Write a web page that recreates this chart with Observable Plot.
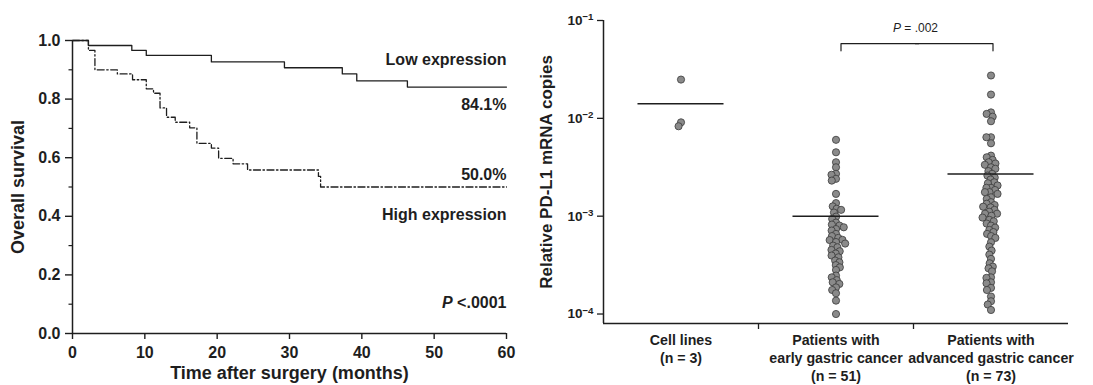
<!DOCTYPE html>
<html><head><meta charset="utf-8">
<script src="https://cdn.jsdelivr.net/npm/d3@7"></script>
<script src="https://cdn.jsdelivr.net/npm/@observablehq/plot@0.6"></script>
<style>
body{margin:0;background:#fff;}
#wrap{display:flex;width:1093px;height:385px;overflow:hidden;}
svg{display:block;overflow:visible}
</style></head><body><div id="wrap"></div>
<script>
// ---- Left panel: Kaplan-Meier overall survival ----
const lowTime  = [0, 2.2, 8.2, 10.2, 19.2, 29.3, 37.3, 39.3, 46.3, 60];
const lowSurv  = [1, 0.983, 0.966, 0.949, 0.927, 0.907, 0.886, 0.862, 0.841, 0.841];
const highTime = [0, 2.2, 3.1, 6.2, 8.3, 10.2, 11.2, 12.1, 13.0, 14.2, 16.2, 17.2, 19.2, 20.2, 22.2, 24.2, 34.0, 34.3, 60];
const highSurv = [1, 0.966, 0.900, 0.886, 0.866, 0.835, 0.820, 0.770, 0.738, 0.721, 0.702, 0.649, 0.633, 0.598, 0.579, 0.558, 0.536, 0.500, 0.500];
const survTicks = [0, 0.2, 0.4, 0.6, 0.8, 1.0];
const survMinorTicks = [0.1, 0.3, 0.5, 0.7, 0.9];
const timeTicks = [0, 10, 20, 30, 40, 50, 60];
const logRankP = "P <.0001";

// ---- Right panel: PD-L1 mRNA copies ----
const categories = ["Cell lines", "Patients with early gastric cancer", "Patients with advanced gastric cancer"];
const categoryLabels = ["Cell lines\n(n = 3)", "Patients with\nearly gastric cancer\n(n = 51)", "Patients with\nadvanced gastric cancer\n(n = 73)"];
const cellLines = [0.0249, 0.0091, 0.0083];
const early = [0.00603, 0.0045, 0.00356, 0.00316, 0.00271, 0.00265, 0.00241, 0.00231, 0.00169, 0.00136,
  0.00126, 0.00119, 0.00116, 0.00109, 0.000991, 0.000938, 0.00086, 0.00082, 0.000801, 0.00077,
  0.000738, 0.000713, 0.000659, 0.000626, 0.0006, 0.000573, 0.00057, 0.000544, 0.000525, 0.0005,
  0.000481, 0.000452, 0.000438, 0.000415, 0.000396, 0.00038, 0.000352, 0.000338, 0.000316, 0.0003,
  0.000282, 0.000247, 0.000237, 0.000222, 0.000211, 0.000203, 0.000187, 0.000176, 0.000163, 0.000137, 0.0001];
const advanced = [0.0274, 0.0175, 0.0115, 0.0111, 0.0104, 0.00934, 0.00641, 0.00641, 0.00556, 0.00416,
  0.004, 0.00376, 0.00356, 0.00345, 0.00335, 0.00316, 0.00305, 0.00289, 0.00271, 0.0026,
  0.00248, 0.00237, 0.00222, 0.00217, 0.00206, 0.00195, 0.00195, 0.00185, 0.00176, 0.00176,
  0.00169, 0.00156, 0.0015, 0.00139, 0.00134, 0.0013, 0.00125, 0.00123, 0.00116, 0.00111,
  0.00106, 0.00106, 0.00101, 0.000968, 0.000917, 0.000887, 0.00084, 0.000801, 0.000764, 0.000724,
  0.000688, 0.000659, 0.000626, 0.0006, 0.000541, 0.000489, 0.000445, 0.000405, 0.000366, 0.00033,
  0.000305, 0.000293, 0.000273, 0.000237, 0.000234, 0.000211, 0.000206, 0.000185, 0.000176, 0.000151,
  0.000135, 0.000125, 0.00011];
const groupMeans = [0.0141, 0.00100, 0.0027];
const logTicks = [1e-4, 1e-3, 1e-2, 1e-1];
const yDomain = [8e-5, 0.1];
const comparison = {groups: [categories[1], categories[2]], label: "P = .002", level: 0.058, foot: 0.049, labelLevel: 0.083};

// ---- styles ----
const FONT = "'Liberation Sans', Arial, Helvetica, sans-serif";
const INK = "#1e1e1e";

const lowData = lowTime.map((t, i) => ({t, s: lowSurv[i]}));
const highData = highTime.map((t, i) => ({t, s: highSurv[i]}));
const lowEnd = lowData[lowData.length - 1];
const highEnd = highData[highData.length - 1];
const pct = d => (d.s * 100).toFixed(1) + "%";

const left = Plot.plot({
  width: 530, height: 385, marginTop: 40, marginBottom: 52, marginLeft: 72, marginRight: 24,
  style: {fontFamily: FONT, color: INK, background: "white", overflow: "visible"},
  x: {domain: [0, 60]},
  y: {domain: [0, 1]},
  marks: [
    Plot.axisY({ticks: survTicks, tickFormat: ".1f", tickSize: 7, tickPadding: 5, fontSize: 16, fontWeight: "bold", label: null, strokeWidth: 1.4}),
    Plot.axisY({ticks: survMinorTicks, tickSize: 3.5, tickFormat: () => "", label: null, strokeWidth: 1.2}),
    Plot.axisX({ticks: timeTicks, tickSize: 6, tickPadding: 7, fontSize: 16, fontWeight: "bold", label: null, strokeWidth: 1.4}),
    Plot.ruleX([0], {strokeWidth: 1.5}),
    Plot.ruleY([0], {strokeWidth: 1.5}),
    Plot.line(lowData, {x: "t", y: "s", curve: "step-after", stroke: INK, strokeWidth: 1.3}),
    Plot.line(highData, {x: "t", y: "s", curve: "step-after", stroke: INK, strokeWidth: 1.3, strokeDasharray: "7,2.5,1.5,2.5"}),
    Plot.text([lowEnd], {x: "t", y: "s", text: () => "Low expression", textAnchor: "end", dy: -27, fontSize: 16, fontWeight: "bold"}),
    Plot.text([lowEnd], {x: "t", y: "s", text: pct, textAnchor: "end", dy: 17.5, fontSize: 16, fontWeight: "bold"}),
    Plot.text([highEnd], {x: "t", y: "s", text: pct, textAnchor: "end", dy: -12.5, fontSize: 16, fontWeight: "bold"}),
    Plot.text([highEnd], {x: "t", y: "s", text: () => "High expression", textAnchor: "end", dy: 27.5, fontSize: 16, fontWeight: "bold"}),
    Plot.text([logRankP], {text: d => d, frameAnchor: "bottom-right", textAnchor: "end", dy: -26, fontSize: 16, fontWeight: "bold"}),
    Plot.text(["Time after surgery (months)"], {text: d => d, frameAnchor: "bottom", dy: 45, fontSize: 18, fontWeight: "bold"}),
    Plot.text(["Overall survival"], {text: d => d, frameAnchor: "left", textAnchor: "middle", rotate: -90, dx: -54, fontSize: 18, fontWeight: "bold"})
  ]
});

const points = [
  ...cellLines.map(v => ({cat: categories[0], v})),
  ...early.map(v => ({cat: categories[1], v})),
  ...advanced.map(v => ({cat: categories[2], v}))
];
const means = categories.map((cat, i) => ({cat, m: groupMeans[i]}));
const RH = 385, RMT = 20, RMB = 62;
const bracketLeft = [{x: 0, y: comparison.foot}, {x: 0, y: comparison.level}, {x: 1, y: comparison.level}];
const bracketRight = [{x: -1, y: comparison.level}, {x: 0, y: comparison.level}, {x: 0, y: comparison.foot}];

const right = Plot.plot({
  width: 563, height: RH, marginTop: RMT, marginBottom: RMB, marginLeft: 73, marginRight: 25,
  style: {fontFamily: FONT, color: INK, background: "white", overflow: "visible"},
  fx: {domain: categories, padding: 0, axis: null},
  x: {domain: [-1, 1], axis: null},
  y: {type: "log", domain: yDomain},
  marks: [
    Plot.axisY({ticks: logTicks, tickFormat: d => "10^" + Math.round(Math.log10(d)), tickSize: 6, tickPadding: 4, fontSize: 13.5, fontWeight: "bold", label: null, strokeWidth: 1.3}),
    Plot.ruleX([categories[0]], {fx: d => d, x: -1, strokeWidth: 1.5}),
    Plot.ruleY([yDomain[0]], {strokeWidth: 1.5}),
    Plot.ruleX([categories[1], categories[2]], {fx: d => d, x: -1, insetTop: RH - RMT - RMB, insetBottom: -6, strokeWidth: 1.3}),
    Plot.dot(points, Plot.dodgeX({anchor: "middle", r: 3.6, padding: -2.6}, {fx: "cat", y: "v", r: 3.6, fill: "#8a8a8a", stroke: "#3a3a3a", strokeWidth: 0.8})),
    Plot.ruleY(means, {fx: "cat", y: "m", x1: -0.555, x2: 0.555, strokeWidth: 1.5}),
    Plot.line(bracketLeft, {fx: () => comparison.groups[0], x: "x", y: "y", dx: 5, strokeWidth: 1.2}),
    Plot.line(bracketRight, {fx: () => comparison.groups[1], x: "x", y: "y", dx: 2, strokeWidth: 1.2}),
    Plot.text([comparison.label], {fx: () => comparison.groups[1], x: -1, y: comparison.labelLevel, text: d => d, dx: 2, fontSize: 12, textAnchor: "middle"}),
    Plot.text(categories, {fx: d => d, text: (d, i) => categoryLabels[i], frameAnchor: "bottom", lineAnchor: "top", dy: 9, fontSize: 14.2, fontWeight: "bold", lineHeight: 1.27}),
    Plot.text(["Relative PD-L1 mRNA copies"], {fx: () => categories[0], text: d => d, frameAnchor: "left", textAnchor: "middle", rotate: -90, dx: -57, fontSize: 17, fontWeight: "bold"})
  ]
});

const wrap = document.getElementById("wrap");
wrap.appendChild(left);
wrap.appendChild(right);

// superscript exponents on log axis labels
right.querySelectorAll("text").forEach(t => {
  const m = /^10\^(-?\d+)$/.exec(t.textContent);
  if (m) t.innerHTML = '10<tspan dy="-0.45em" font-size="0.72em">' + m[1].replace("-", "\u2212") + '</tspan>';
});
// italic P in p-value annotations
const esc = s => s.replace(/&/g, "&amp;").replace(/</g, "&lt;");
[left, right].forEach(svg => svg.querySelectorAll("text").forEach(t => {
  const s = t.textContent;
  if (s === logRankP || s === comparison.label) {
    t.innerHTML = '<tspan font-style="italic">P</tspan>' + esc(s.slice(1));
  }
}));
</script></body></html>
